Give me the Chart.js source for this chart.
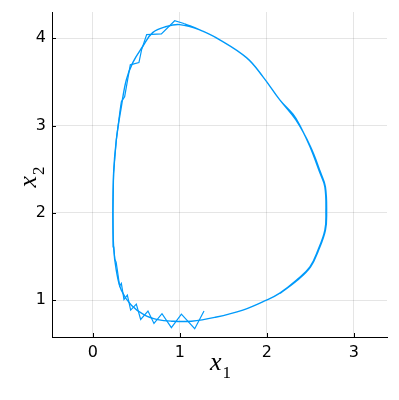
<!DOCTYPE html>
<html>
<head>
<meta charset="utf-8">
<script src="https://cdn.jsdelivr.net/npm/chart.js@4"></script>
<style>
  body { margin: 0; background: #fff; }
  #wrap { width: 399px; height: 400px; }
</style>
</head>
<body>
<div id="wrap"><canvas id="phase"></canvas></div>
<script>
// trajectory (x1, x2)
const x1 = [
  1.277, 1.170, 1.017, 0.902, 0.794, 0.702, 0.633, 0.549, 0.499, 0.434,
  0.396, 0.357, 0.327, 0.307, 0.281, 0.267, 0.252, 0.240, 0.232, 0.230,
  0.238, 0.269, 0.313, 0.327, 0.365, 0.399, 0.430, 0.529, 0.560, 0.618,
  0.787, 0.940, 1.055, 1.228, 1.458, 1.765, 1.953, 2.148, 2.300, 2.380,
  2.494, 2.609, 2.666, 2.678, 2.666, 2.586, 2.494, 2.341, 2.148, 1.995,
  1.723, 1.400, 1.132, 0.902, 0.745, 0.595, 0.442, 0.327, 0.269, 0.238,
  0.230, 0.238, 0.269, 0.327, 0.384, 0.457, 0.572, 0.687, 0.845, 0.998,
  1.228, 1.458, 1.765, 1.953, 2.148, 2.333, 2.500, 2.618, 2.672, 2.686,
  2.672, 2.592, 2.500, 2.350, 2.150
];
const x2 = [
  0.877, 0.675, 0.842, 0.687, 0.847, 0.735, 0.877, 0.781, 0.956, 0.888,
  1.060, 1.010, 1.194, 1.164, 1.346, 1.436, 1.470, 1.610, 1.800, 1.998,
  2.456, 2.835, 3.179, 3.274, 3.331, 3.523, 3.695, 3.721, 3.869, 4.041,
  4.049, 4.200, 4.165, 4.096, 3.982, 3.778, 3.561, 3.294, 3.130, 3.000,
  2.760, 2.459, 2.299, 1.998, 1.803, 1.573, 1.382, 1.232, 1.083, 1.002,
  0.888, 0.804, 0.761, 0.761, 0.779, 0.830, 0.943, 1.115, 1.344, 1.611,
  1.998, 2.456, 2.835, 3.217, 3.523, 3.718, 3.905, 4.064, 4.134, 4.156,
  4.096, 3.982, 3.778, 3.561, 3.294, 3.064, 2.760, 2.459, 2.300, 2.000,
  1.800, 1.570, 1.380, 1.230, 1.080
];
const jaggedEnd = 32;   // first part of the run is coarse, the rest is smooth
const xTicks = [0, 1, 2, 3];
const yTicks = [1, 2, 3, 4];

const points = x1.map((v, i) => ({ x: v, y: x2[i] }));
const lineColor = '#009AFA';

// small inward tick marks + LaTeX-like axis labels
const axisDecor = {
  id: 'axisDecor',
  afterDraw(chart) {
    const c = chart.ctx;
    const xs = chart.scales.x, ys = chart.scales.y;
    const a = chart.chartArea;
    c.save();
    c.strokeStyle = '#000';
    c.lineWidth = 1;
    c.beginPath();
    xTicks.forEach(v => {
      const px = Math.round(xs.getPixelForValue(v)) + 0.5;
      c.moveTo(px, a.bottom); c.lineTo(px, a.bottom - 4);
    });
    yTicks.forEach(v => {
      const py = Math.round(ys.getPixelForValue(v)) + 0.5;
      c.moveTo(a.left, py); c.lineTo(a.left + 4, py);
    });
    c.stroke();

    c.fillStyle = '#000';
    c.textBaseline = 'alphabetic';
    // x label
    const cx = (a.left + a.right) / 2;
    c.font = 'italic 26px "Liberation Serif"';
    c.textAlign = 'right';
    c.fillText('x', cx + 2, 370);
    c.font = '17px "Liberation Serif"';
    c.textAlign = 'left';
    c.fillText('1', cx + 3, 378);
    // y label, rotated
    c.translate(36, 178);
    c.rotate(-Math.PI / 2);
    c.font = 'italic 26px "Liberation Serif"';
    c.textAlign = 'right';
    c.fillText('x', 2, 0);
    c.font = '17px "Liberation Serif"';
    c.textAlign = 'left';
    c.fillText('2', 3, 8);
    c.restore();
  }
};

new Chart(document.getElementById('phase'), {
  type: 'scatter',
  data: {
    datasets: [{
      data: points.slice(0, jaggedEnd + 1),
      showLine: true,
      borderColor: lineColor,
      borderWidth: 1.2,
      pointRadius: 0,
      tension: 0
    }, {
      data: points.slice(jaggedEnd),
      showLine: true,
      borderColor: lineColor,
      borderWidth: 1.4,
      pointRadius: 0,
      tension: 0.4
    }]
  },
  options: {
    responsive: true,
    maintainAspectRatio: false,
    animation: false,
    layout: { padding: { top: 12, right: 12, left: 0, bottom: 0 } },
    plugins: { legend: { display: false }, tooltip: { enabled: false } },
    scales: {
      x: {
        type: 'linear',
        min: -0.47,
        max: 3.38,
        afterBuildTicks: s => { s.ticks = xTicks.map(v => ({ value: v })); },
        afterFit: s => { s.height = 63; s.paddingLeft = 0; s.paddingRight = 0; },
        grid: { color: 'rgba(0,0,0,0.1)', drawTicks: false },
        border: { display: true, color: '#000', width: 1 },
        ticks: { color: '#000', padding: 6, maxRotation: 0, font: { family: 'DejaVu Sans', size: 16 } }
      },
      y: {
        type: 'linear',
        min: 0.58,
        max: 4.30,
        afterBuildTicks: s => { s.ticks = yTicks.map(v => ({ value: v })); },
        afterFit: s => { s.width = 52; s.paddingTop = 0; s.paddingBottom = 0; },
        grid: { color: 'rgba(0,0,0,0.1)', drawTicks: false },
        border: { display: true, color: '#000', width: 1 },
        ticks: { color: '#000', padding: 6, font: { family: 'DejaVu Sans', size: 16 } }
      }
    }
  },
  plugins: [axisDecor]
});
</script>
</body>
</html>
